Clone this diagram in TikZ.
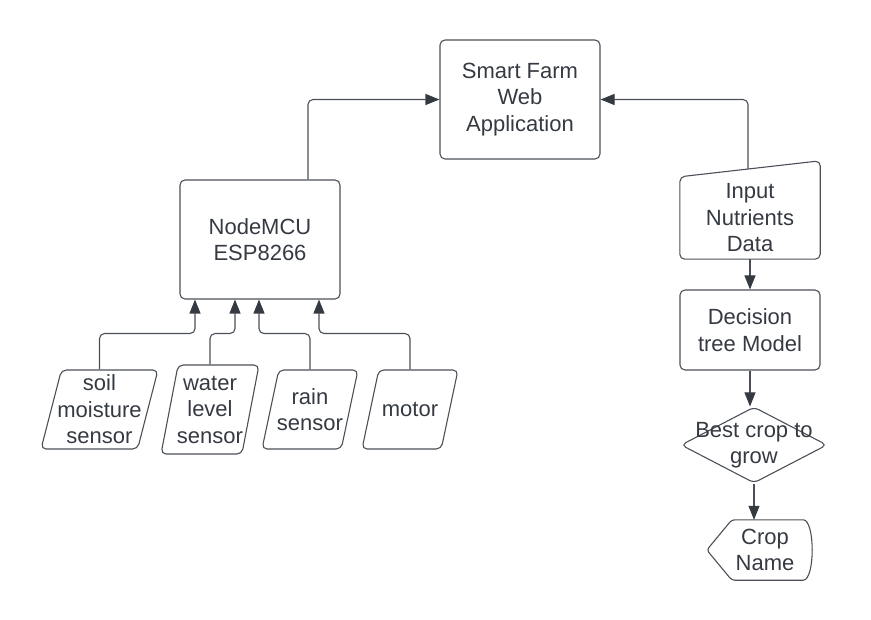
\documentclass[tikz,border=0pt]{standalone}
\usepackage{fontspec}
\setmainfont{Liberation Sans}
\usetikzlibrary{arrows.meta,shapes.geometric}
\definecolor{edge}{HTML}{4B5058}
\definecolor{ink}{HTML}{353A42}

\begin{document}
\begin{tikzpicture}[x=1pt,y=-1pt,font=\fontsize{22}{26.5}\selectfont,text=ink,
    box/.style={draw=edge,line width=1.1pt,rounded corners=5pt,align=center,inner sep=0pt},
    slant/.style={box,trapezium,trapezium left angle=75,trapezium right angle=105,
      trapezium stretches=true,inner sep=2pt,minimum height=79pt},
    arj/.style={draw=edge,line width=1.1pt,rounded corners=5pt,-{Triangle[length=14pt,width=11pt,color=ink]}}]
  \useasboundingbox (0,0) rectangle (871,620);

  \node(web)[box,minimum width=160pt,minimum height=119pt] at (520,99.5) {Smart Farm\\Web\\Application};
  \node(mcu)[box,minimum width=160pt,minimum height=119pt] at (260,239.5) {NodeMCU\\ESP8266};
  \draw[arj] ([xshift=48pt]mcu.north) |- (web.west);

  \node(soil)[slant,minimum width=117pt,label={[align=center]center:soil\\moisture\\sensor}] at (99.5,409.5) {};
  \node(water)[slant,minimum width=98pt,minimum height=89pt,label={[align=center]center:water\\level\\sensor}] at (210,409.5) {};
  \node(rain)[slant,minimum width=96pt,label={[align=center]center:rain\\sensor}] at (310,409.5) {};
  \node(motor)[slant,minimum width=96pt,label={[align=center]center:motor}] at (410,409.5) {};

  \draw[arj] (soil.north) |- ([xshift=-65pt,yshift=-34pt]mcu.south) -- ([xshift=-65pt]mcu.south);
  \draw[arj] (water.north) |- ([xshift=-25pt,yshift=-34pt]mcu.south) -- ([xshift=-25pt]mcu.south);
  \draw[arj] (rain.north) |- ([xshift=-1pt,yshift=-34pt]mcu.south) -- ([xshift=-1pt]mcu.south);
  \draw[arj] (motor.north) |- ([xshift=59pt,yshift=-34pt]mcu.south) -- ([xshift=59pt]mcu.south);

  \node(input)[align=center,minimum width=140pt,minimum height=82pt] at (750,218) {Input\\Nutrients\\Data};
  \draw[box] (input.north west) -- ([yshift=16pt]input.north east) -- (input.south east)
    -- (input.south west) -- cycle;
  \coordinate(input top) at ([xshift=-2pt,yshift=8pt]input.north);
  \draw[arj] (input top) |- (web.east);

  \node(tree)[box,minimum width=140pt,minimum height=80pt] at (750,330) {Decision\\tree Model};
  \draw[arj] (input.south) -- (tree.north);

  \node(best)[box,diamond,minimum width=146pt,minimum height=76pt,
    label={[align=center]center:Best crop to\\grow}] at (754,445) {};
  \draw[arj] (tree.south) -- (tree.south |- best.north);

  \node(crop)[align=center,minimum width=100pt,minimum height=60pt] at (765,550) {Crop\\Name};
  \draw[box,rounded corners=3pt] ([xshift=-8pt]crop.west) -- ([xshift=17pt]crop.north west)
    -- ([xshift=-15pt]crop.north east) .. controls (crop.north east) and (crop.south east)
    .. ([xshift=-15pt]crop.south east) -- ([xshift=17pt]crop.south west) -- cycle;
  \draw[arj] (best.south) -- (best.south |- crop.north);
\end{tikzpicture}
\end{document}
